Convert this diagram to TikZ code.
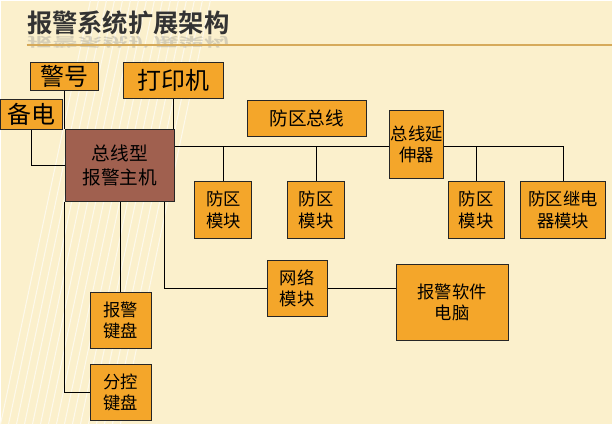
\documentclass[tikz,border=0pt]{standalone}
\usepackage{fontspec}
\newfontfamily\cjk{Noto Sans CJK SC}
\newfontfamily\cjkbold{Noto Sans CJK SC Bold}
\definecolor{boxfill}{RGB}{244,166,42}
\definecolor{hostfill}{RGB}{160,96,79}
\definecolor{paper}{RGB}{251,240,204}
\tikzset{every picture/.style={line width=0.75pt}}
\tikzset{
  unit/.style={draw=black!85,fill=boxfill,inner sep=0.75pt,align=center,font=\cjk\fontsize{13}{16}\selectfont},
  bigunit/.style={unit,font=\cjk\fontsize{18}{20}\selectfont},
  wire/.style={draw=black,line width=0.75pt}
}
\begin{document}
\begin{tikzpicture}[x=0.75pt,y=0.75pt,yscale=-1,xscale=1]
	%background
	\fill[paper] (0,0) rectangle (612,424);
	\foreach \i in {0,8,...,120}
		\draw[white!60!paper,line width=0.8pt] (\i,424) -- (\i+90,0);
	\useasboundingbox (0,0) rectangle (612,424);
	%title
	\node[anchor=west,inner sep=0pt,font=\cjkbold\fontsize{19}{22}\selectfont,text=black!45,opacity=0.35,yscale=-0.5] at (26,42) {报警系统扩展架构};
	\node[anchor=west,inner sep=0pt,font=\cjkbold\fontsize{19}{22}\selectfont,text=black!80] (title) at (26,22) {报警系统扩展架构};
	\draw[color={rgb,255:red,214;green,170;blue,90},line width=1.5pt] (26,45) -- (612,45);
	
	%boxes
	\node[bigunit,minimum width=51pt,minimum height=21pt] (alarm) at (64,76) {警号};
	\node[bigunit,minimum width=75pt,minimum height=27pt] (printer) at (173,80) {打印机};
	\node[bigunit,minimum width=47pt,minimum height=23pt] (backup) at (31,114) {备电};
	\node[unit,fill=hostfill,minimum width=82pt,minimum height=54pt,font=\cjk\fontsize{14}{18}\selectfont] (host) at (119.5,165) {总线型\\报警主机};
	\node[bigunit,font=\cjk\fontsize{14}{16}\selectfont,minimum width=89pt,minimum height=27pt] (busname) at (306.5,118) {防区总线};
	\node[unit,minimum width=35pt,minimum height=51pt] (ext) at (416.5,144) {总线延\\伸器};
	\node[unit,minimum width=43pt,minimum height=43pt] (zone1) at (223,209.5) {防区\\模块};
	\node[unit,minimum width=43pt,minimum height=43pt] (zone2) at (316,209.5) {防区\\模块};
	\node[unit,minimum width=42pt,minimum height=43pt] (zone3) at (476,209.5) {防区\\模块};
	\node[unit,minimum width=64pt,minimum height=43pt] (relay) at (563,209.5) {防区继电\\器模块};
	\node[unit,minimum width=45pt,minimum height=42pt] (net) at (297,288) {网络\\模块};
	\node[unit,minimum width=84pt,minimum height=57pt] (pc) at (452,302) {报警软件\\电脑};
	\node[unit,minimum width=46pt,minimum height=42pt] (kbd) at (120.5,320) {报警\\键盘};
	\node[unit,minimum width=46pt,minimum height=42pt] (subkbd) at (120.5,392) {分控\\键盘};
	
	%wires
	\draw[wire] (alarm.south) -- (alarm.south |- host.north);
	\draw[wire] (printer.south) -- (printer.south |- host.north);
	\draw[wire] (backup.south) |- (host.west);
	\draw[wire] (host.east |- 0,146) -- (ext.west |- 0,146);
	\draw[wire] (zone1.north) -- (zone1.north |- 0,146);
	\draw[wire] (zone2.north) -- (zone2.north |- 0,146);
	\draw[wire] (ext.east |- 0,146) -| (relay.north);
	\draw[wire] (zone3.north) -- (zone3.north |- 0,146);
	\draw[wire] (kbd.north) -- (kbd.north |- host.south);
	\draw[wire] (alarm.south |- host.south) |- (subkbd.west);
	\draw[wire] (164,0 |- host.south) |- (net.west);
	\draw[wire] (net.east) -- (net.east -| pc.west);
\end{tikzpicture}
\end{document}
